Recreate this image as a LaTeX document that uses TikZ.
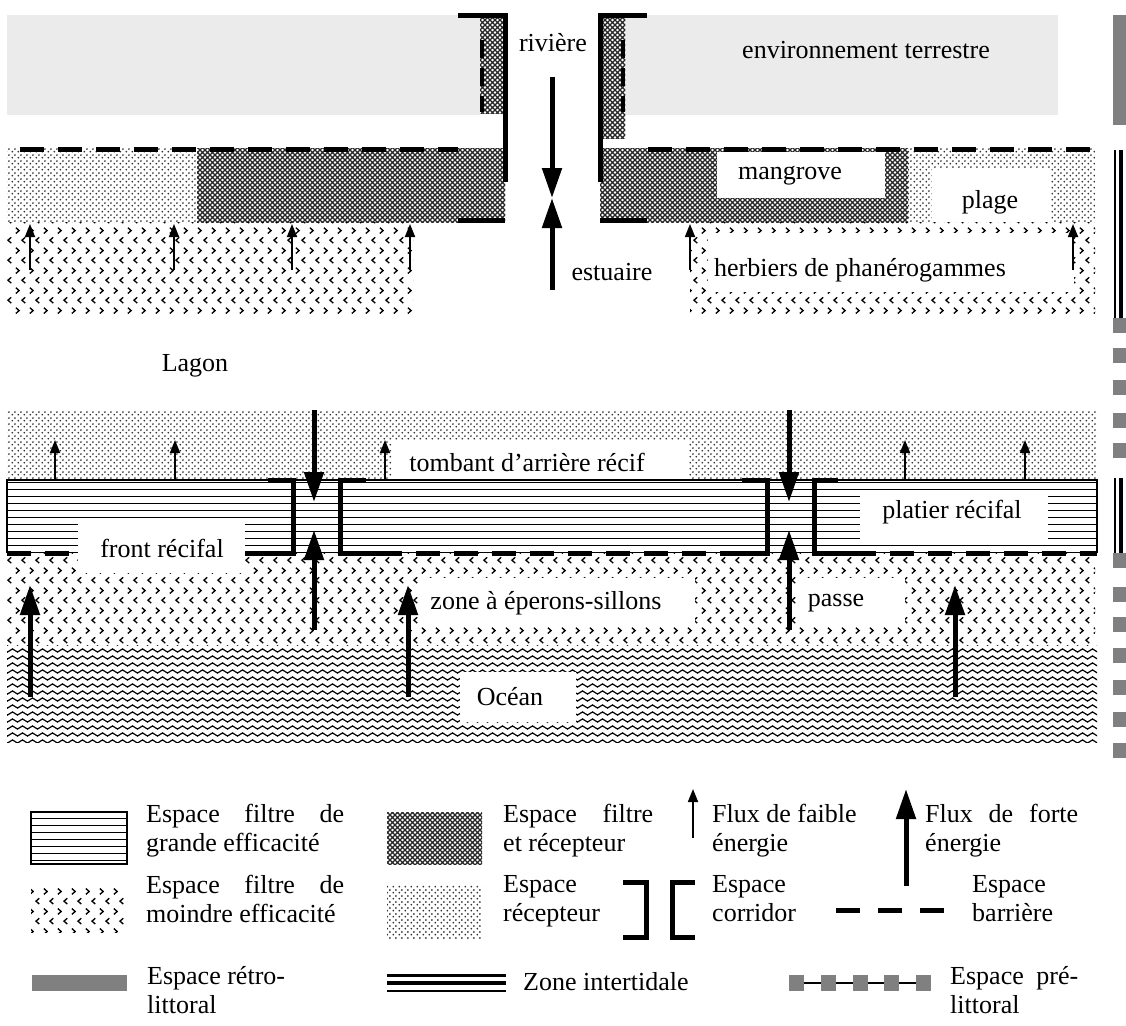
\documentclass[tikz,border=0pt]{standalone}
\usepackage{fontspec}
\setmainfont{Liberation Serif}
\usepackage{xcolor}
\usetikzlibrary{patterns,arrows.meta}

\definecolor{terre}{gray}{0.92}
\definecolor{retro}{gray}{0.5}

\pgfdeclarepatternformonly{hlignes}{\pgfqpoint{-1pt}{-1pt}}{\pgfqpoint{8pt}{8pt}}{\pgfqpoint{7pt}{7pt}}{%
  \pgfsetlinewidth{1.7pt}%
  \pgfpathmoveto{\pgfqpoint{-1pt}{3.5pt}}%
  \pgfpathlineto{\pgfqpoint{8pt}{3.5pt}}%
  \pgfusepath{stroke}}
\pgfdeclarepatternformonly{treillis}{\pgfqpoint{-1pt}{-1pt}}{\pgfqpoint{6pt}{6pt}}{\pgfqpoint{5pt}{5pt}}{%
  \pgfsetlinewidth{1.2pt}%
  \pgfpathmoveto{\pgfqpoint{0pt}{0pt}}\pgfpathlineto{\pgfqpoint{5pt}{5pt}}%
  \pgfpathmoveto{\pgfqpoint{0pt}{5pt}}\pgfpathlineto{\pgfqpoint{5pt}{0pt}}%
  \pgfusepath{stroke}}
\pgfdeclarepatternformonly{pointsr}{\pgfqpoint{0pt}{0pt}}{\pgfqpoint{5.6pt}{5.6pt}}{\pgfqpoint{5.6pt}{5.6pt}}{%
  \pgfpathcircle{\pgfqpoint{1.4pt}{1.4pt}}{1pt}%
  \pgfpathcircle{\pgfqpoint{4.2pt}{4.2pt}}{1pt}%
  \pgfusepath{fill}}
\pgfdeclarepatternformonly{chevrons}{\pgfqpoint{0pt}{0pt}}{\pgfqpoint{14pt}{20pt}}{\pgfqpoint{14pt}{20pt}}{%
  \pgfsetlinewidth{1.4pt}%
  \pgfpathmoveto{\pgfqpoint{2pt}{18pt}}\pgfpathlineto{\pgfqpoint{5.5pt}{15pt}}\pgfpathlineto{\pgfqpoint{2pt}{12pt}}%
  \pgfpathmoveto{\pgfqpoint{12pt}{8pt}}\pgfpathlineto{\pgfqpoint{8.5pt}{5pt}}\pgfpathlineto{\pgfqpoint{12pt}{2pt}}%
  \pgfusepath{stroke}}
\pgfdeclarepatternformonly{vagues}{\pgfqpoint{-1pt}{-1pt}}{\pgfqpoint{11pt}{8pt}}{\pgfqpoint{10pt}{7pt}}{%
  \pgfsetlinewidth{1.2pt}%
  \pgfpathmoveto{\pgfqpoint{0pt}{3.5pt}}%
  \pgfpathcurveto{\pgfqpoint{1.6pt}{5.6pt}}{\pgfqpoint{3.4pt}{5.6pt}}{\pgfqpoint{5pt}{3.5pt}}%
  \pgfpathcurveto{\pgfqpoint{6.6pt}{1.4pt}}{\pgfqpoint{8.4pt}{1.4pt}}{\pgfqpoint{10pt}{3.5pt}}%
  \pgfusepath{stroke}}

\newcommand{\pleine}[2]{\makebox[#1][s]{#2}}

\begin{document}
\begin{tikzpicture}[x=1pt,y=-1pt,
  lbl/.style={font=\fontsize{26}{30}\selectfont,inner sep=0pt},
  leg/.style={font=\fontsize{26}{29}\selectfont,inner sep=0pt,anchor=north west,align=left},
  flfort/.style={line width=5pt,-{Triangle[length=30pt,width=19pt]}},
  flfaible/.style={line width=1.8pt,-{Triangle[length=13pt,width=10pt]}},
  barriere/.style={line width=5pt,dash pattern=on 24pt off 14pt},
  corridor/.style={line width=5pt,line join=miter}]
\useasboundingbox (0,0) rectangle (1126,1025);
\fill[terre] (7,15) rectangle (480,115);
\fill[terre] (625,15) rectangle (1058,115);
\fill[pattern=treillis,pattern color=black!85] (480,15) rectangle (505,113);
\fill[pattern=treillis,pattern color=black!85] (600,15) rectangle (625,138);
\fill[pattern=pointsr,pattern color=black!80] (7,148) rectangle (197,222);
\fill[pattern=treillis,pattern color=black!85] (197,148) rectangle (505,222);
\fill[pattern=treillis,pattern color=black!85] (600,148) rectangle (908,222);
\fill[pattern=pointsr,pattern color=black!80] (908,148) rectangle (1095,222);
\fill[pattern=chevrons] (7,222) rectangle (413,315);
\fill[pattern=chevrons] (690,222) rectangle (1095,315);
\fill[white] (717,152) rectangle (885,198);
\fill[white] (932,168) rectangle (1050,222);
\fill[white] (708,233) rectangle (1074,292);
\draw[barriere] (20,149) -- (458,149);
\draw[barriere] (648,149) -- (1090,149);
\draw[line width=3.5pt,dash pattern=on 18pt off 10pt] (482,40) -- (482,112);
\draw[line width=3.5pt,dash pattern=on 18pt off 10pt] (623,40) -- (623,112);
\draw[corridor] (458,16) -- (505,16) -- (505,182);
\draw[corridor] (458,220) -- (505,220);
\draw[corridor] (647,16) -- (600,16) -- (600,182);
\draw[corridor] (600,220) -- (647,220);
\coordinate (embouchure) at (552,198);
\draw[flfort] (552,77) -- (embouchure);
\draw[flfort] (552,290) -- (embouchure);
\foreach \x in {30,174,292,410,690,1073}
  \draw[flfaible] (\x,270) -- (\x,224);
\fill[pattern=pointsr,pattern color=black!80] (7,410) rectangle (1097,480);
\fill[pattern=hlignes] (7,480) rectangle (1097,553);
\fill[pattern=chevrons] (7,553) rectangle (1095,645);
\fill[pattern=vagues] (7,645) rectangle (1097,742);
\draw[line width=2pt] (7,553) -- (7,480) -- (1097,480) -- (1097,553);
\draw[barriere] (7,553) -- (293,553);
\draw[barriere] (340,553) -- (767,553);
\draw[barriere] (814,553) -- (1097,553);
\fill[white] (392,440) rectangle (688,479);
\fill[white] (78,519) rectangle (245,573);
\fill[white] (860,493) rectangle (1048,544);
\fill[white] (418,578) rectangle (695,625);
\fill[white] (797,578) rectangle (905,625);
\fill[white] (460,672) rectangle (576,722);
\draw[corridor] (268,480) -- (293,480) -- (293,553) -- (258,553);
\draw[corridor] (366,480) -- (340,480) -- (340,553) -- (380,553);
\draw[corridor] (742,480) -- (767,480) -- (767,553) -- (737,553);
\draw[corridor] (838,480) -- (814,480) -- (814,553) -- (858,553);
\coordinate (passeA) at (314,516);
\coordinate (passeB) at (789,516);
\draw[flfort] (314,410) -- ([yshift=14pt]passeA);
\draw[flfort] (314,630) -- ([yshift=-14pt]passeA);
\draw[flfort] (789,410) -- ([yshift=14pt]passeB);
\draw[flfort] (789,630) -- ([yshift=-14pt]passeB);
\foreach \x in {30,408,955}
  \draw[flfort] (\x,697) -- (\x,585);
\foreach \x in {55,175,385,905,1025}
  \draw[flfaible] (\x,480) -- (\x,440);
\fill[retro] (1113,15) rectangle (1126,125);
\foreach \y in {318,348,380,413,443,553,587,617,648,680,712,743}
  \fill[retro] (1113,\y) rectangle (1126,\y+15);
\draw[line width=2pt] (1115,150) -- (1115,318);
\draw[line width=4pt] (1120.5,150) -- (1120.5,318);
\draw[line width=2pt] (1115,478) -- (1115,553);
\draw[line width=4pt] (1120.5,478) -- (1120.5,553);
\node[lbl] (riviere) at (553,43) {rivière};
\node[lbl] (terrestre) at (866,50) {environnement terrestre};
\node[lbl] (mangrove) at (790,176) {mangrove};
\node[lbl] (plage) at (990,202) {plage};
\node[lbl] (estuaire) at (612,272) {estuaire};
\node[lbl] (herbiers) at (860,270) {herbiers de phanérogammes};
\node[lbl] (lagon) at (195,366) {Lagon};
\node[lbl] (tombant) at (527,462) {tombant d’arrière récif};
\node[lbl] (front) at (162,548) {front récifal};
\node[lbl] (platier) at (952,512) {platier récifal};
\node[lbl] (eperons) at (546,603) {zone à éperons-sillons};
\node[lbl] (passe) at (836,603) {passe};
\node[lbl] (ocean) at (510,697) {Océan};
\fill[pattern=hlignes] (31,812) rectangle (127,864);
\draw[line width=1.5pt] (31,812) rectangle (127,864);
\fill[pattern=treillis,pattern color=black!85] (387,812) rectangle (482,864);
\draw[flfaible] (693,838) -- (693,789);
\draw[flfort] (906,886) -- (906,789);
\fill[pattern=chevrons] (31,885) rectangle (125,932);
\fill[pattern=pointsr,pattern color=black!80] (387,885) rectangle (482,938);
\draw[corridor] (623,882) -- (646,882) -- (646,937) -- (623,937);
\draw[corridor] (695,882) -- (672,882) -- (672,937) -- (695,937);
\draw[line width=5pt,dash pattern=on 24pt off 18pt] (836,910) -- (946,910);
\fill[retro] (32,975) rectangle (127,991);
\draw[line width=3pt] (387,975) -- (506,975);
\draw[line width=3.5pt] (387,983) -- (506,983);
\draw[line width=2pt] (387,991) -- (506,991);
\draw[line width=1.2pt] (789,983) -- (931,983);
\foreach \x in {789,821,853,884,916}
  \fill[retro] (\x,975) rectangle (\x+15,991);
\node[leg] (lgA) at (146,804) {\pleine{198pt}{Espace filtre de}\\grande efficacité};
\node[leg] (lgB) at (503,804) {\pleine{150pt}{Espace filtre}\\et récepteur};
\node[leg] (lgC) at (712,804) {Flux de faible\\énergie};
\node[leg] (lgD) at (925,804) {\pleine{153pt}{Flux de forte}\\énergie};
\node[leg] (lgE) at (146,875) {\pleine{198pt}{Espace filtre de}\\moindre efficacité};
\node[leg] (lgF) at (503,875) {Espace\\récepteur};
\node[leg] (lgG) at (712,875) {Espace\\corridor};
\node[leg] (lgH) at (972,875) {Espace\\barrière};
\node[leg] (lgI) at (147,966) {Espace rétro-\\littoral};
\node[leg,anchor=base west] (lgJ) at (523,990) {Zone intertidale};
\node[leg] (lgK) at (950,966) {\pleine{128pt}{Espace pré-}\\littoral};
\end{tikzpicture}
\end{document}
